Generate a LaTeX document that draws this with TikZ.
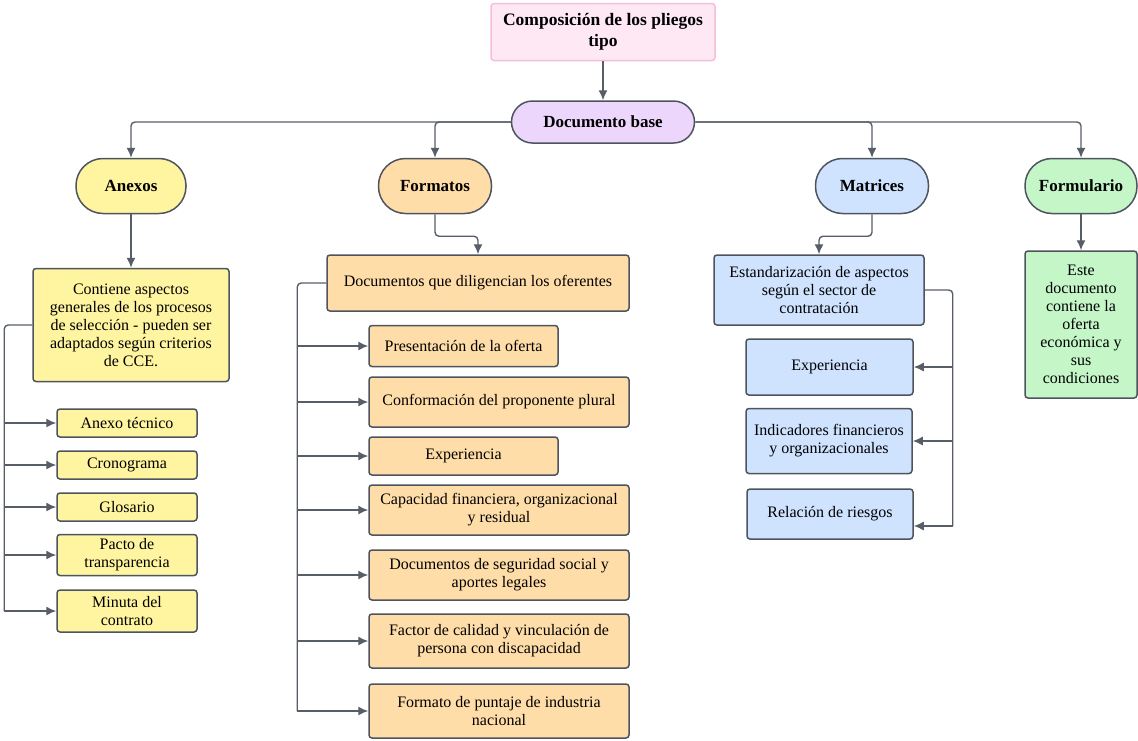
\documentclass[tikz,border=0pt]{standalone}
\usepackage{fontspec}
\setmainfont{Liberation Serif}
\usetikzlibrary{arrows.meta}

\definecolor{edgegray}{RGB}{78,84,94}
\definecolor{linegray}{RGB}{88,94,104}
\definecolor{pinkfill}{RGB}{253,232,244}
\definecolor{pinkedge}{RGB}{246,190,214}
\definecolor{lilacfill}{RGB}{237,214,251}
\definecolor{yellowfill}{RGB}{255,244,160}
\definecolor{orangefill}{RGB}{255,221,168}
\definecolor{bluefill}{RGB}{207,227,255}
\definecolor{greenfill}{RGB}{196,246,200}

\begin{document}
\begin{tikzpicture}[x=1pt,y=-1pt,
    box/.style={draw=edgegray, line width=1.5pt, rounded corners=3pt, align=center,
        inner sep=0pt, font=\fontsize{16}{18}\selectfont},
    pill/.style={box, rounded corners=27pt, font=\fontsize{17}{19}\selectfont\bfseries},
    conn/.style={draw=linegray, line width=1.4pt, rounded corners=4pt,
        -{Latex[length=10pt,width=9pt]}},
    bus/.style={draw=linegray, line width=1.4pt, rounded corners=4pt}]

    \useasboundingbox (0,0) rectangle (1138,740);

    % top of the tree
    \node[box, fill=pinkfill, draw=pinkedge, font=\fontsize{17.5}{21}\selectfont\bfseries,
        minimum width=224, minimum height=57] (title) at (603,32)
        {Composición de los pliegos\\tipo};
    \node[pill, fill=lilacfill, rounded corners=21pt, minimum width=183, minimum height=42]
        (base) at (603,122) {Documento base};
    \draw[conn] (title) -- (base);

    % the four branches
    \node[pill, fill=yellowfill, minimum width=110, minimum height=55] (anexos) at (131,186) {Anexos};
    \node[pill, fill=orangefill, minimum width=113, minimum height=55] (formatos) at (435,186) {Formatos};
    \node[pill, fill=bluefill, minimum width=113, minimum height=55] (matrices) at (872,186) {Matrices};
    \node[pill, fill=greenfill, minimum width=112, minimum height=55] (formulario) at (1081,186) {Formulario};

    \draw[conn] (base.west) -| (anexos.north);
    \draw[conn] (base.west) -| (formatos.north);
    \draw[conn] (base.east) -| (matrices.north);
    \draw[conn] (base.east) -| (formulario.north);

    % anexos
    \node[box, fill=yellowfill, minimum width=196, minimum height=113] (anexosdesc) at (131,325)
        {Contiene aspectos\\generales de los procesos\\de selección - pueden ser\\adaptados según criterios\\de CCE.};
    \draw[conn] (anexos) -- (anexosdesc);

    \node[box, fill=yellowfill, minimum width=140, minimum height=28] (anx1) at (127,423) {Anexo técnico};
    \node[box, fill=yellowfill, minimum width=140, minimum height=28] (anx2) at (127,465) {Cronograma};
    \node[box, fill=yellowfill, minimum width=140, minimum height=28] (anx3) at (127,507) {Glosario};
    \node[box, fill=yellowfill, minimum width=140, minimum height=41] (anx4) at (127,555) {Pacto de\\transparencia};
    \node[box, fill=yellowfill, minimum width=140, minimum height=42] (anx5) at (127,611) {Minuta del\\contrato};

    \coordinate (anxbus) at ([xshift=-28pt]anexosdesc.west);
    \draw[bus] (anexosdesc.west) -- (anxbus) -- (anxbus |- anx5.west);
    \foreach \i in {1,...,5}{
        \draw[conn] (anxbus |- anx\i.west) -- (anx\i.west);
    }

    % formatos
    \node[box, fill=orangefill, minimum width=302, minimum height=56] (docs) at (478,283)
        {Documentos que diligencian los oferentes};
    \draw[conn] (formatos.south) -- ++(0,22) -| (docs.north);

    \node[box, fill=orangefill, minimum width=189, minimum height=41] (fmt1) at (463.5,346) {Presentación de la oferta};
    \node[box, fill=orangefill, minimum width=260, minimum height=50] (fmt2) at (499,402) {Conformación del proponente plural};
    \node[box, fill=orangefill, minimum width=189, minimum height=38] (fmt3) at (463.5,456) {Experiencia};
    \node[box, fill=orangefill, minimum width=260, minimum height=50] (fmt4) at (499,510) {Capacidad financiera, organizacional\\y residual};
    \node[box, fill=orangefill, minimum width=260, minimum height=50] (fmt5) at (499,575) {Documentos de seguridad social y\\aportes legales};
    \node[box, fill=orangefill, minimum width=260, minimum height=54] (fmt6) at (499,641) {Factor de calidad y vinculación de\\persona con discapacidad};
    \node[box, fill=orangefill, minimum width=260, minimum height=54] (fmt7) at (499,711) {Formato de puntaje de industria\\nacional};

    \coordinate (fmtbus) at ([xshift=-29pt]docs.west);
    \draw[bus] (docs.west) -- (fmtbus) -- (fmtbus |- fmt7.west);
    \foreach \i in {1,...,7}{
        \draw[conn] (fmtbus |- fmt\i.west) -- (fmt\i.west);
    }

    % matrices
    \node[box, fill=bluefill, minimum width=210, minimum height=70] (estand) at (819,290)
        {Estandarización de aspectos\\según el sector de\\contratación};
    \draw[conn] (matrices.south) -- ++(0,22) -| (estand.north);

    \node[box, fill=bluefill, minimum width=167, minimum height=56] (mat1) at (829.5,367) {Experiencia};
    \node[box, fill=bluefill, minimum width=166, minimum height=65] (mat2) at (829,441) {Indicadores financieros\\y organizacionales};
    \node[box, fill=bluefill, minimum width=166, minimum height=50] (mat3) at (830,514) {Relación de riesgos};

    \coordinate (matbus) at ([xshift=28pt]estand.east);
    \coordinate (mat3in) at ([yshift=-12pt]mat3.east);
    \draw[bus] (estand.east) -- (matbus) -- (matbus |- mat3in);
    \draw[conn] (matbus |- mat1.east) -- (mat1.east);
    \draw[conn] (matbus |- mat2.east) -- (mat2.east);
    \draw[conn] (matbus |- mat3in) -- (mat3in);

    % formulario
    \node[box, fill=greenfill, minimum width=112, minimum height=147] (oferta) at (1081,324.5)
        {Este\\documento\\contiene la\\oferta\\económica y\\sus\\condiciones};
    \draw[conn] (formulario) -- (oferta);

\end{tikzpicture}
\end{document}
